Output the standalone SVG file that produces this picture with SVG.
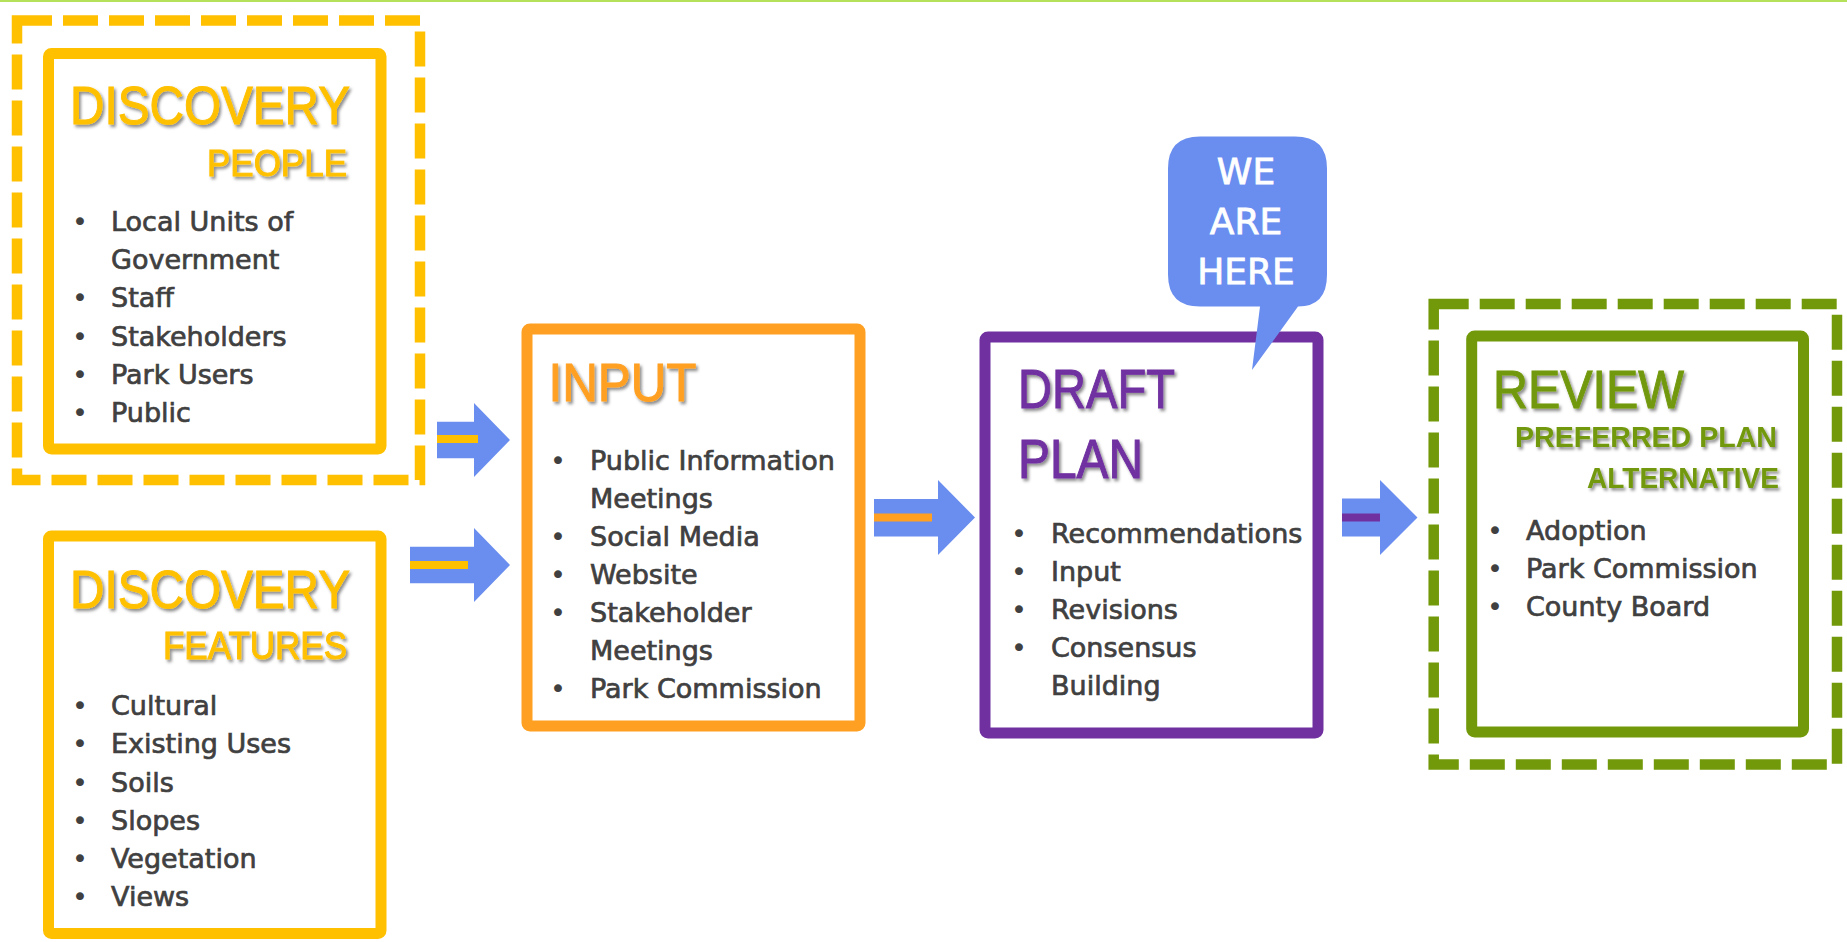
<svg xmlns="http://www.w3.org/2000/svg" width="1847" height="942" viewBox="0 0 1847 942">
<defs>
<filter id="sh" x="-10%" y="-20%" width="130%" height="160%">
<feDropShadow dx="2" dy="2.5" stdDeviation="1.5" flood-color="#000" flood-opacity="0.45"/>
</filter>
</defs>
<style>
.box{fill:#fff;stroke-width:11}
.dash{fill:none;stroke-width:10.5;stroke-dasharray:35 11}
.title{font-family:"Liberation Sans",Arial,sans-serif;filter:url(#sh);stroke-width:1}
.body{font-family:"DejaVu Sans",Verdana,sans-serif;font-size:27px;fill:#404040;stroke:#404040;stroke-width:0.7}
.bul{font-family:"DejaVu Sans",Verdana,sans-serif;font-size:27px;fill:#404040;text-anchor:middle}
.arrow{fill:#6A8EEF}
.yel{stroke:#FFC000}
.org{stroke:#FFA023}
.pur{stroke:#7030A0}
.grn{stroke:#72990A}
</style>
<rect x="0" y="0" width="1847" height="942" fill="#fff"/>
<rect x="0" y="0" width="1847" height="2" fill="#B4E05A"/>

<g id="discovery-people">
<rect class="dash yel" x="17" y="20.5" width="403" height="459.5"/>
<rect class="box yel" x="48.5" y="53.5" width="332.5" height="395.5" rx="3"/>
<text class="title yel" x="70" y="124" font-size="54" fill="#FFC000" textLength="280" lengthAdjust="spacingAndGlyphs">DISCOVERY</text>
<text class="title yel" x="207" y="176" font-size="37" fill="#FFC000" textLength="140" lengthAdjust="spacingAndGlyphs">PEOPLE</text>
<text class="bul" x="80" y="231">•</text><text class="body" x="111" y="231">Local Units of</text>
<text class="body" x="111" y="269">Government</text>
<text class="bul" x="80" y="307">•</text><text class="body" x="111" y="307">Staff</text>
<text class="bul" x="80" y="345.5">•</text><text class="body" x="111" y="345.5">Stakeholders</text>
<text class="bul" x="80" y="383.5">•</text><text class="body" x="111" y="383.5">Park Users</text>
<text class="bul" x="80" y="421.5">•</text><text class="body" x="111" y="421.5">Public</text>
</g>

<g id="discovery-features">
<rect class="box yel" x="48.5" y="536" width="332.5" height="397.5" rx="3"/>
<text class="title yel" x="70" y="608" font-size="54" fill="#FFC000" textLength="280" lengthAdjust="spacingAndGlyphs">DISCOVERY</text>
<text class="title yel" x="163" y="659" font-size="38" fill="#FFC000" textLength="184" lengthAdjust="spacingAndGlyphs">FEATURES</text>
<text class="bul" x="80" y="715">•</text><text class="body" x="111" y="715">Cultural</text>
<text class="bul" x="80" y="753">•</text><text class="body" x="111" y="753">Existing Uses</text>
<text class="bul" x="80" y="791.5">•</text><text class="body" x="111" y="791.5">Soils</text>
<text class="bul" x="80" y="829.5">•</text><text class="body" x="111" y="829.5">Slopes</text>
<text class="bul" x="80" y="868">•</text><text class="body" x="111" y="868">Vegetation</text>
<text class="bul" x="80" y="906">•</text><text class="body" x="111" y="906">Views</text>
</g>

<g id="input">
<rect class="box org" x="527" y="329" width="333" height="397" rx="3"/>
<text class="title org" x="548.5" y="401" font-size="54" fill="#FFA023" textLength="148" lengthAdjust="spacingAndGlyphs">INPUT</text>
<text class="bul" x="558" y="470">•</text><text class="body" x="590" y="470">Public Information</text>
<text class="body" x="590" y="508">Meetings</text>
<text class="bul" x="558" y="546">•</text><text class="body" x="590" y="546">Social Media</text>
<text class="bul" x="558" y="584">•</text><text class="body" x="590" y="584">Website</text>
<text class="bul" x="558" y="622">•</text><text class="body" x="590" y="622">Stakeholder</text>
<text class="body" x="590" y="660">Meetings</text>
<text class="bul" x="558" y="698">•</text><text class="body" x="590" y="698">Park Commission</text>
</g>

<g id="draft-plan">
<rect class="box pur" x="985" y="337" width="333" height="396" rx="3"/>
<text class="title pur" x="1018" y="408" font-size="55" fill="#7030A0" textLength="157" lengthAdjust="spacingAndGlyphs">DRAFT</text>
<text class="title pur" x="1018" y="477.5" font-size="55" fill="#7030A0" textLength="125" lengthAdjust="spacingAndGlyphs">PLAN</text>
<text class="bul" x="1019" y="543">•</text><text class="body" x="1051" y="543">Recommendations</text>
<text class="bul" x="1019" y="581">•</text><text class="body" x="1051" y="581">Input</text>
<text class="bul" x="1019" y="619">•</text><text class="body" x="1051" y="619">Revisions</text>
<text class="bul" x="1019" y="657">•</text><text class="body" x="1051" y="657">Consensus</text>
<text class="body" x="1051" y="695">Building</text>
</g>

<g id="we-are-here">
<path fill="#6A8EEF" d="M1200,136.5 H1295 Q1327,136.5 1327,168.5 V274.5 Q1327,306.5 1298,306.5 L1252,370 L1260,306.5 H1200 Q1168,306.5 1168,274.5 V168.5 Q1168,136.5 1200,136.5 Z"/>
<g font-family="'DejaVu Sans',Verdana,sans-serif" font-size="36" fill="#fff" stroke="#fff" stroke-width="0.8" text-anchor="middle">
<text x="1246" y="183.5">WE</text>
<text x="1246" y="233.5">ARE</text>
<text x="1246" y="283.5">HERE</text>
</g>
</g>

<g id="review">
<rect class="dash grn" x="1433.7" y="304" width="403.3" height="460.5"/>
<rect class="box grn" x="1471.7" y="336" width="331.8" height="396" rx="3"/>
<text class="title grn" x="1493" y="408" font-size="54" fill="#72990A" textLength="191" lengthAdjust="spacingAndGlyphs">REVIEW</text>
<text class="title" x="1515" y="447" font-size="29" font-weight="bold" fill="#72990A" textLength="262" lengthAdjust="spacingAndGlyphs">PREFERRED PLAN</text>
<text class="title" x="1587" y="488" font-size="29" font-weight="bold" fill="#72990A" textLength="192" lengthAdjust="spacingAndGlyphs">ALTERNATIVE</text>
<text class="bul" x="1495" y="540">•</text><text class="body" x="1526" y="540">Adoption</text>
<text class="bul" x="1495" y="578">•</text><text class="body" x="1526" y="578">Park Commission</text>
<text class="bul" x="1495" y="616">•</text><text class="body" x="1526" y="616">County Board</text>
</g>

<g id="connectors">
<path class="arrow" d="M437,421.7 H474 V403 L510,440 L474,477 V458.3 H437 Z"/>
<rect x="437" y="435" width="41" height="8" fill="#FFC000"/>
<path class="arrow" d="M410,546.7 H474 V528 L510,565 L474,602 V583.3 H410 Z"/>
<rect x="410" y="561" width="58" height="8" fill="#FFC000"/>
<path class="arrow" d="M874,499 H938 V480 L975,517.5 L938,555 V536.5 H874 Z"/>
<rect x="874" y="513.5" width="58" height="8" fill="#FFA023"/>
<path class="arrow" d="M1342,498.5 H1380 V480 L1417.5,517.5 L1380,555 V536.5 H1342 Z"/>
<rect x="1342" y="513.5" width="38" height="8" fill="#7030A0"/>
</g>
</svg>
